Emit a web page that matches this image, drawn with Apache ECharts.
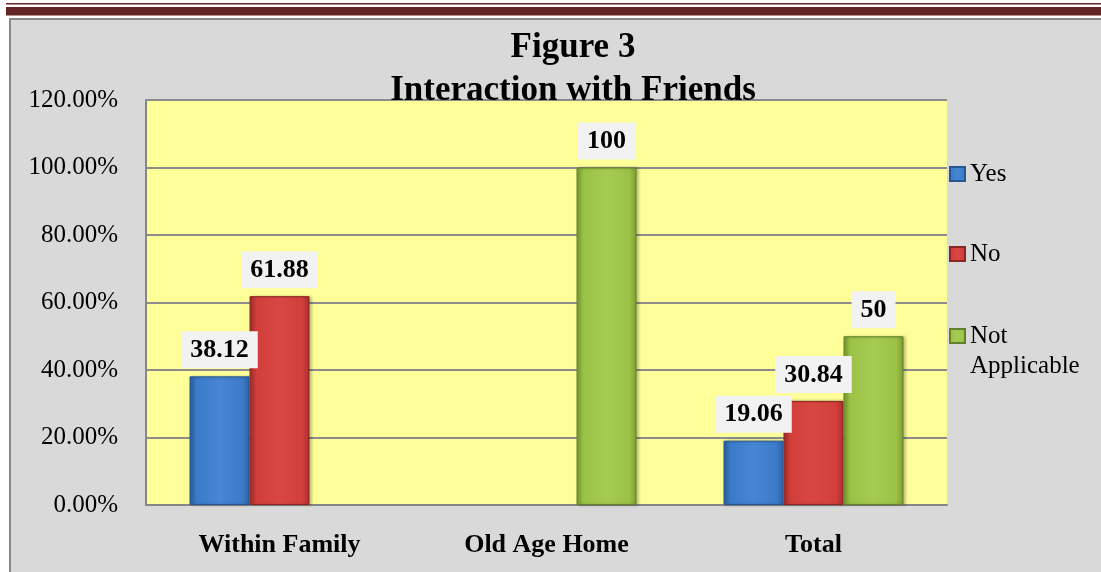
<!DOCTYPE html>
<html>
<head>
<meta charset="utf-8">
<title>Figure 3</title>
<script src="https://cdn.jsdelivr.net/npm/echarts@6/dist/echarts.min.js"></script>
<style>
  html, body { margin: 0; padding: 0; background: #fff; }
  #chart { width: 1101px; height: 572px; }
</style>
</head>
<body>
<div id="chart"></div>
<script>
// data
var categories = ['Within Family', 'Old Age Home', 'Total'];
var seriesNames = ['Yes', 'No', 'Not\nApplicable'];
var yesValues = [38.12, 0, 19.06];
var noValues = [61.88, 0, 30.84];
var naValues = [0, 100, 50];
var yTicks = [0, 20, 40, 60, 80, 100, 120];

var serif = 'Liberation Serif';

// bevelled look: darker edges, lighter middle
function face(dark, mid, light) {
  return new echarts.graphic.LinearGradient(0, 0, 1, 0, [
    { offset: 0, color: dark },
    { offset: 0.12, color: mid },
    { offset: 0.5, color: light },
    { offset: 0.88, color: mid },
    { offset: 1, color: dark }
  ]);
}

var colors = [
  { fill: face('#2c62a6', '#3c7bc8', '#4686d2'), border: '#285690' },
  { fill: face('#a82f2c', '#d23f3b', '#d94744'), border: '#8a2624' },
  { fill: face('#7c9e33', '#9bc247', '#a6cb52'), border: '#62802a' }
];

function makeSeries(name, values, idx) {
  return {
    name: name,
    type: 'bar',
    barWidth: 60,
    barGap: 0,
    data: values.map(function (v) { return v === 0 ? null : v; }),
    itemStyle: {
      color: colors[idx].fill,
      borderColor: colors[idx].border,
      borderWidth: 1,
      shadowColor: 'rgba(0,0,0,0.25)',
      shadowBlur: 3,
      shadowOffsetX: 2
    },
    label: {
      show: true,
      position: 'top',
      distance: 8,
      color: '#000',
      fontFamily: serif,
      fontWeight: 'bold',
      fontSize: 26,
      lineHeight: 26,
      backgroundColor: '#f2f2f2',
      padding: [6, 9, 5, 9]
    }
  };
}

function legendAt(name, top, formatter) {
  var l = {
    data: [{ name: name, icon: 'rect' }],
    orient: 'vertical',
    left: 944,
    top: top,
    itemWidth: 15,
    itemHeight: 14,
    itemGap: 6,
    selectedMode: false,
    textStyle: { fontFamily: serif, fontSize: 25, color: '#000', lineHeight: 30 }
  };
  if (formatter) l.formatter = formatter;
  return l;
}

var chart = echarts.init(document.getElementById('chart'));

var option = {
  backgroundColor: '#d9d9d9',
  animation: false,
  graphic: [
    // white page margin above and left of the frame
    { type: 'rect', shape: { x: 0, y: 0, width: 1101, height: 18 }, style: { fill: '#fff' }, silent: true },
    { type: 'rect', shape: { x: 0, y: 0, width: 9, height: 572 }, style: { fill: '#fff' }, silent: true },
    // double rule at the top
    { type: 'rect', shape: { x: 6, y: 3, width: 1095, height: 1.6 }, style: { fill: '#632523' }, silent: true },
    { type: 'rect', shape: { x: 6, y: 7, width: 1095, height: 8.5 }, style: { fill: '#632523' }, silent: true },
    // chart frame
    { type: 'polyline', shape: { points: [[10, 580], [10, 19], [1110, 19]] }, style: { stroke: '#8a8a8a', lineWidth: 2, fill: null }, silent: true }
  ],
  title: {
    text: 'Figure 3\nInteraction with Friends',
    left: 568,
    top: 21,
    textAlign: 'center',
    textStyle: { fontFamily: serif, fontWeight: 'bold', fontSize: 35, lineHeight: 43, color: '#000' }
  },
  legend: [
    legendAt('Yes', 154),
    legendAt('No', 234),
    // blank first line so that "Not" sits level with the icon
    legendAt('Not\nApplicable', 286, function (name) { return '\n' + name; })
  ],
  grid: {
    left: 146,
    right: 154,
    top: 100,
    bottom: 67,
    show: true,
    backgroundColor: '#ffff99',
    borderWidth: 0
  },
  xAxis: {
    type: 'category',
    data: categories,
    axisTick: { show: false },
    axisLine: { show: true, lineStyle: { color: '#868686', width: 2 } },
    axisLabel: { margin: 27, color: '#000', fontFamily: serif, fontWeight: 'bold', fontSize: 26 }
  },
  yAxis: {
    type: 'value',
    min: yTicks[0],
    max: yTicks[yTicks.length - 1],
    interval: 20,
    axisTick: { show: false },
    axisLine: { show: true, lineStyle: { color: '#868686', width: 2 } },
    splitLine: { show: true, lineStyle: { color: '#8c8c8c', width: 2 } },
    axisLabel: {
      margin: 28,
      color: '#000',
      fontFamily: serif,
      fontSize: 25,
      formatter: function (v) { return v.toFixed(2) + '%'; }
    }
  },
  series: [
    makeSeries(seriesNames[0], yesValues, 0),
    makeSeries(seriesNames[1], noValues, 1),
    makeSeries(seriesNames[2], naValues, 2)
  ]
};

chart.setOption(option);
</script>
</body>
</html>
